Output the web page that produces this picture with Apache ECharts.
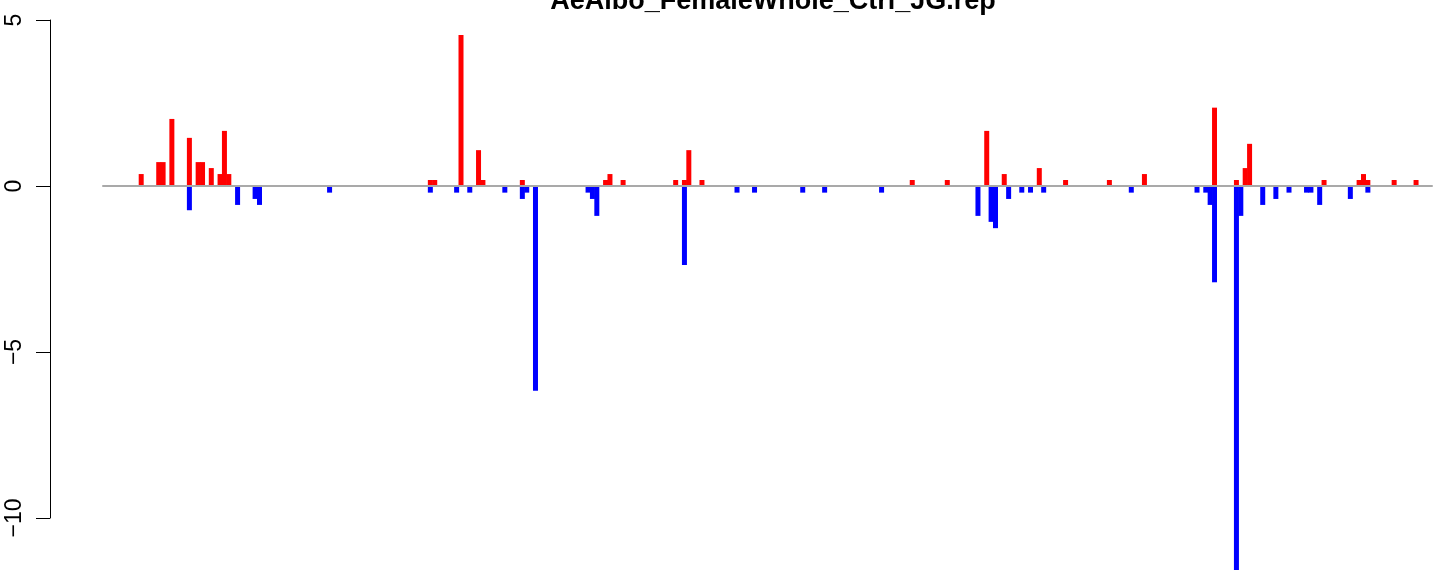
<!DOCTYPE html>
<html>
<head>
<meta charset="utf-8">
<script src="https://cdn.jsdelivr.net/npm/echarts@6/dist/echarts.min.js"></script>
<style>
html,body{margin:0;padding:0;background:#fff;}
#chart{width:1444px;height:570px;}
</style>
</head>
<body>
<div id="chart"></div>
<script>
// Chart title
const chartTitle = 'AeAlbo_FemaleWhole_Ctrl_JG.rep';
// Slot index (position along the x axis) and value of each red (up) bar
const upIndex  = [0, 4, 5, 7, 11, 13, 14, 16, 18, 19, 20, 66, 67, 73, 77, 78, 87, 106, 107, 110, 122, 124, 125, 128, 176, 184, 193, 197, 205, 211, 221, 229, 245, 250, 252, 253, 270, 278, 279, 280, 286, 291];
const upValues = [0.36, 0.72, 0.72, 2.02, 1.45, 0.72, 0.72, 0.54, 0.36, 1.66, 0.36, 0.18, 0.18, 4.55, 1.08, 0.18, 0.18, 0.18, 0.36, 0.18, 0.18, 0.18, 1.08, 0.18, 0.18, 0.18, 1.66, 0.36, 0.54, 0.18, 0.18, 0.36, 2.36, 0.18, 0.54, 1.27, 0.18, 0.18, 0.36, 0.18, 0.18, 0.18];
// Slot index and value of each blue (down) bar
const downIndex  = [11, 22, 26, 27, 43, 66, 72, 75, 83, 87, 88, 90, 102, 103, 104, 124, 136, 140, 151, 156, 169, 191, 194, 195, 198, 201, 203, 206, 226, 241, 243, 244, 245, 250, 251, 256, 259, 262, 266, 267, 269, 276, 280];
const downValues = [-0.73, -0.57, -0.39, -0.57, -0.2, -0.2, -0.2, -0.2, -0.2, -0.39, -0.2, -6.17, -0.2, -0.39, -0.9, -2.38, -0.2, -0.2, -0.2, -0.2, -0.2, -0.9, -1.08, -1.27, -0.39, -0.2, -0.2, -0.2, -0.2, -0.2, -0.2, -0.57, -2.9, -11.62, -0.9, -0.57, -0.39, -0.2, -0.2, -0.2, -0.57, -0.39, -0.2];
// Y axis tick labels
const yTicks = [5, 0, -5, -10];

const upData = upIndex.map((x, k) => [x, upValues[k]]);
const downData = downIndex.map((x, k) => [x, downValues[k]]);

const chart = echarts.init(document.getElementById('chart'), null, {renderer: 'canvas'});
const FONT = '"Liberation Sans", Arial, Helvetica, sans-serif';

chart.setOption({
  animation: false,
  backgroundColor: '#ffffff',
  title: {
    text: chartTitle,
    left: 768,
    top: -17,
    textAlign: 'center',
    textStyle: {fontFamily: FONT, fontWeight: 'bold', fontSize: 27, color: '#000'}
  },
  grid: [
    {left: 103, top: 20, width: 1329, height: 550, containLabel: false},
    {left: 50, top: 20, width: 10, height: 498, containLabel: false}
  ],
  xAxis: [
    {
      gridIndex: 0, type: 'value', min: -8.72, max: 294.64, z: 5,
      axisLine: {show: true, onZero: true, lineStyle: {color: '#a9a9a9', width: 2}},
      axisTick: {show: false}, axisLabel: {show: false}, splitLine: {show: false}
    },
    {
      gridIndex: 1, type: 'value', show: false
    }
  ],
  yAxis: [
    {gridIndex: 0, type: 'value', min: -11.566, max: 5, show: false, splitLine: {show: false}},
    {
      gridIndex: 1, type: 'value', min: -10, max: 5, interval: 5, position: 'left',
      axisLine: {show: true, lineStyle: {color: '#000', width: 1}},
      axisTick: {show: true, length: 14, inside: false, lineStyle: {color: '#000', width: 1}},
      splitLine: {show: false},
      axisLabel: {
        show: true, rotate: 90, margin: 24, color: '#000', fontFamily: FONT, fontSize: 23,
        formatter: v => yTicks.includes(v) ? String(v).replace('-', '\u2212') : ''
      }
    }
  ],
  series: [
    {
      type: 'bar', name: 'up', xAxisIndex: 0, yAxisIndex: 0, data: upData,
      barWidth: 5, barGap: '-100%', itemStyle: {color: '#ff0000'}, z: 2, clip: true
    },
    {
      type: 'bar', name: 'down', xAxisIndex: 0, yAxisIndex: 0, data: downData,
      barWidth: 5, barGap: '-100%', itemStyle: {color: '#0000ff'}, z: 2, clip: true
    }
  ]
});
</script>
</body>
</html>
